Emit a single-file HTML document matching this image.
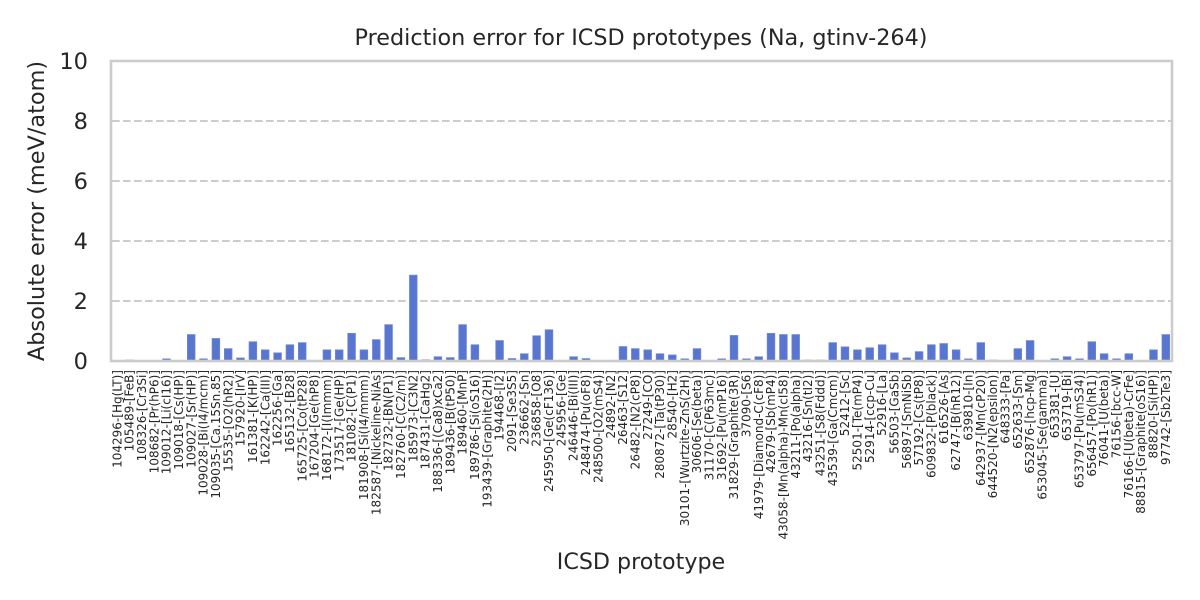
<!DOCTYPE html>
<html>
<head>
<meta charset="utf-8">
<style>
  html, body { margin: 0; padding: 0; background: #ffffff; }
  svg { display: block; }
  text { font-family: "DejaVu Sans", "Liberation Sans", sans-serif; fill: #262626; }
  .xt { font-size: 12px; }
</style>
</head>
<body>
<svg width="1200" height="600" viewBox="0 0 1200 600" xmlns="http://www.w3.org/2000/svg">
  <rect x="0" y="0" width="1200" height="600" fill="#ffffff"/>

  <!-- grid -->
  <g stroke="#cccccc" stroke-width="2" stroke-dasharray="7.7 3.3" fill="none">
    <line x1="112" y1="301" x2="1171" y2="301"/>
    <line x1="112" y1="241" x2="1171" y2="241"/>
    <line x1="112" y1="181" x2="1171" y2="181"/>
    <line x1="112" y1="121" x2="1171" y2="121"/>
  </g>

  <!-- bars -->
  <g fill="#5875d0" stroke="#6c86d6" stroke-width="0.8">
    <rect x="125.7" y="360.1" width="7.6" height="0.9"/>
    <rect x="162.7" y="358.9" width="7.6" height="2.1"/>
    <rect x="187.4" y="334.6" width="7.6" height="26.4"/>
    <rect x="199.7" y="358.9" width="7.6" height="2.1"/>
    <rect x="212.1" y="338.5" width="7.6" height="22.5"/>
    <rect x="224.4" y="348.7" width="7.6" height="12.3"/>
    <rect x="236.7" y="358" width="7.6" height="3"/>
    <rect x="249.1" y="341.8" width="7.6" height="19.2"/>
    <rect x="261.4" y="349.9" width="7.6" height="11.1"/>
    <rect x="273.8" y="352.9" width="7.6" height="8.1"/>
    <rect x="286.1" y="344.8" width="7.6" height="16.2"/>
    <rect x="298.4" y="342.7" width="7.6" height="18.3"/>
    <rect x="323.1" y="349.9" width="7.6" height="11.1"/>
    <rect x="335.4" y="349.9" width="7.6" height="11.1"/>
    <rect x="347.8" y="333.4" width="7.6" height="27.6"/>
    <rect x="360.1" y="349.9" width="7.6" height="11.1"/>
    <rect x="372.5" y="339.7" width="7.6" height="21.3"/>
    <rect x="384.8" y="324.7" width="7.6" height="36.3"/>
    <rect x="397.1" y="357.7" width="7.6" height="3.3"/>
    <rect x="409.5" y="275.2" width="7.6" height="85.8"/>
    <rect x="421.8" y="359.8" width="7.6" height="1.2"/>
    <rect x="434.1" y="356.8" width="7.6" height="4.2"/>
    <rect x="446.5" y="357.7" width="7.6" height="3.3"/>
    <rect x="458.8" y="324.7" width="7.6" height="36.3"/>
    <rect x="471.1" y="344.8" width="7.6" height="16.2"/>
    <rect x="495.8" y="340.6" width="7.6" height="20.4"/>
    <rect x="508.2" y="358.6" width="7.6" height="2.4"/>
    <rect x="520.5" y="353.8" width="7.6" height="7.2"/>
    <rect x="532.8" y="335.8" width="7.6" height="25.2"/>
    <rect x="545.2" y="329.8" width="7.6" height="31.2"/>
    <rect x="569.8" y="356.8" width="7.6" height="4.2"/>
    <rect x="582.2" y="358.6" width="7.6" height="2.4"/>
    <rect x="619.2" y="346.6" width="7.6" height="14.4"/>
    <rect x="631.5" y="348.7" width="7.6" height="12.3"/>
    <rect x="643.9" y="349.9" width="7.6" height="11.1"/>
    <rect x="656.2" y="353.8" width="7.6" height="7.2"/>
    <rect x="668.5" y="355" width="7.6" height="6"/>
    <rect x="680.9" y="358.9" width="7.6" height="2.1"/>
    <rect x="693.2" y="348.7" width="7.6" height="12.3"/>
    <rect x="717.9" y="358.9" width="7.6" height="2.1"/>
    <rect x="730.2" y="335.5" width="7.6" height="25.5"/>
    <rect x="742.6" y="358.9" width="7.6" height="2.1"/>
    <rect x="754.9" y="356.8" width="7.6" height="4.2"/>
    <rect x="767.2" y="333.4" width="7.6" height="27.6"/>
    <rect x="779.6" y="334.6" width="7.6" height="26.4"/>
    <rect x="791.9" y="334.6" width="7.6" height="26.4"/>
    <rect x="804.2" y="360.1" width="7.6" height="0.9"/>
    <rect x="816.6" y="360.1" width="7.6" height="0.9"/>
    <rect x="828.9" y="342.7" width="7.6" height="18.3"/>
    <rect x="841.2" y="346.9" width="7.6" height="14.1"/>
    <rect x="853.6" y="349.9" width="7.6" height="11.1"/>
    <rect x="865.9" y="347.8" width="7.6" height="13.2"/>
    <rect x="878.3" y="344.8" width="7.6" height="16.2"/>
    <rect x="890.6" y="352.9" width="7.6" height="8.1"/>
    <rect x="902.9" y="358" width="7.6" height="3"/>
    <rect x="915.3" y="351.7" width="7.6" height="9.3"/>
    <rect x="927.6" y="344.8" width="7.6" height="16.2"/>
    <rect x="939.9" y="343.6" width="7.6" height="17.4"/>
    <rect x="952.3" y="349.9" width="7.6" height="11.1"/>
    <rect x="964.6" y="358.9" width="7.6" height="2.1"/>
    <rect x="977" y="342.7" width="7.6" height="18.3"/>
    <rect x="989.3" y="360.1" width="7.6" height="0.9"/>
    <rect x="1014" y="348.7" width="7.6" height="12.3"/>
    <rect x="1026.3" y="340.6" width="7.6" height="20.4"/>
    <rect x="1051" y="358.9" width="7.6" height="2.1"/>
    <rect x="1063.3" y="356.8" width="7.6" height="4.2"/>
    <rect x="1075.7" y="358.9" width="7.6" height="2.1"/>
    <rect x="1088" y="341.8" width="7.6" height="19.2"/>
    <rect x="1100.3" y="353.8" width="7.6" height="7.2"/>
    <rect x="1112.7" y="358.9" width="7.6" height="2.1"/>
    <rect x="1125" y="353.8" width="7.6" height="7.2"/>
    <rect x="1149.7" y="349.9" width="7.6" height="11.1"/>
    <rect x="1162" y="334.6" width="7.6" height="26.4"/>
  </g>

  <!-- spines -->
  <rect x="111" y="61" width="1061" height="300" fill="none" stroke="#cccccc" stroke-width="2.6"/>

  <!-- y tick labels -->
  <g font-size="22.5" text-anchor="end">
    <text x="88" y="369">0</text>
    <text x="88" y="309">2</text>
    <text x="88" y="249">4</text>
    <text x="88" y="189">6</text>
    <text x="88" y="129">8</text>
    <text x="88" y="69">10</text>
  </g>

  <!-- title -->
  <text x="641" y="45" font-size="22.3" text-anchor="middle">Prediction error for ICSD prototypes (Na, gtinv-264)</text>

  <!-- axis labels -->
  <text x="641" y="569" font-size="22.2" text-anchor="middle">ICSD prototype</text>
  <text transform="translate(44,211) rotate(-90)" font-size="22.4" text-anchor="middle">Absolute error (meV/atom)</text>

  <!-- x tick labels -->
  <g class="xt" text-anchor="end">
    <text transform="translate(121.3,370) rotate(-90)">104296-[Hg(LT)]</text>
    <text transform="translate(133.6,370) rotate(-90)">105489-[FeB]</text>
    <text transform="translate(146.0,370) rotate(-90)">108326-[Cr3Si]</text>
    <text transform="translate(158.3,370) rotate(-90)">108682-[Pr(hP6)]</text>
    <text transform="translate(170.6,370) rotate(-90)">109012-[Li(cI16)]</text>
    <text transform="translate(183.0,370) rotate(-90)">109018-[Cs(HP)]</text>
    <text transform="translate(195.3,370) rotate(-90)">109027-[Sr(HP)]</text>
    <text transform="translate(207.6,370) rotate(-90)">109028-[Bi(I4/mcm)]</text>
    <text transform="translate(220.0,370) rotate(-90)">109035-[Ca.15Sn.85]</text>
    <text transform="translate(232.3,370) rotate(-90)">15535-[O2(hR2)]</text>
    <text transform="translate(244.6,370) rotate(-90)">157920-[IrV]</text>
    <text transform="translate(257.0,370) rotate(-90)">161381-[K(HP)]</text>
    <text transform="translate(269.3,370) rotate(-90)">162242-[Ca(III)]</text>
    <text transform="translate(281.7,370) rotate(-90)">162256-[Ga]</text>
    <text transform="translate(294.0,370) rotate(-90)">165132-[B28]</text>
    <text transform="translate(306.3,370) rotate(-90)">165725-[Co(tP28)]</text>
    <text transform="translate(318.7,370) rotate(-90)">167204-[Ge(hP8)]</text>
    <text transform="translate(331.0,370) rotate(-90)">168172-[I(Immm)]</text>
    <text transform="translate(343.3,370) rotate(-90)">173517-[Ge(HP)]</text>
    <text transform="translate(355.7,370) rotate(-90)">181082-[C(P1)]</text>
    <text transform="translate(368.0,370) rotate(-90)">181908-[Si(I4/mmm)]</text>
    <text transform="translate(380.3,370) rotate(-90)">182587-[Nickeline-NiAs]</text>
    <text transform="translate(392.7,370) rotate(-90)">182732-[BN(P1)]</text>
    <text transform="translate(405.0,370) rotate(-90)">182760-[C(C2/m)]</text>
    <text transform="translate(417.4,370) rotate(-90)">185973-[C3N2]</text>
    <text transform="translate(429.7,370) rotate(-90)">187431-[CaHg2]</text>
    <text transform="translate(442.0,370) rotate(-90)">188336-[(Ca8)xCa2]</text>
    <text transform="translate(454.4,370) rotate(-90)">189436-[B(tP50)]</text>
    <text transform="translate(466.7,370) rotate(-90)">189460-[MnP]</text>
    <text transform="translate(479.0,370) rotate(-90)">189786-[Si(oS16)]</text>
    <text transform="translate(491.4,370) rotate(-90)">193439-[Graphite(2H)]</text>
    <text transform="translate(503.7,370) rotate(-90)">194468-[I2]</text>
    <text transform="translate(516.1,370) rotate(-90)">2091-[Se3S5]</text>
    <text transform="translate(528.4,370) rotate(-90)">236662-[Sn]</text>
    <text transform="translate(540.7,370) rotate(-90)">236858-[O8]</text>
    <text transform="translate(553.1,370) rotate(-90)">245950-[Ge(cF136)]</text>
    <text transform="translate(565.4,370) rotate(-90)">245956-[Ge]</text>
    <text transform="translate(577.7,370) rotate(-90)">246446-[Bi(III)]</text>
    <text transform="translate(590.1,370) rotate(-90)">248474-[Pu(oF8)]</text>
    <text transform="translate(602.4,370) rotate(-90)">248500-[O2(mS4)]</text>
    <text transform="translate(614.8,370) rotate(-90)">24892-[N2]</text>
    <text transform="translate(627.1,370) rotate(-90)">26463-[S12]</text>
    <text transform="translate(639.4,370) rotate(-90)">26482-[N2(cP8)]</text>
    <text transform="translate(651.8,370) rotate(-90)">27249-[CO]</text>
    <text transform="translate(664.1,370) rotate(-90)">280872-[Ta(tP30)]</text>
    <text transform="translate(676.4,370) rotate(-90)">28540-[H2]</text>
    <text transform="translate(688.8,370) rotate(-90)">30101-[Wurtzite-ZnS(2H)]</text>
    <text transform="translate(701.1,370) rotate(-90)">30606-[Se(beta)]</text>
    <text transform="translate(713.4,370) rotate(-90)">31170-[C(P63mc)]</text>
    <text transform="translate(725.8,370) rotate(-90)">31692-[Pu(mP16)]</text>
    <text transform="translate(738.1,370) rotate(-90)">31829-[Graphite(3R)]</text>
    <text transform="translate(750.5,370) rotate(-90)">37090-[S6]</text>
    <text transform="translate(762.8,370) rotate(-90)">41979-[Diamond-C(cF8)]</text>
    <text transform="translate(775.1,370) rotate(-90)">42679-[Sb(mP4)]</text>
    <text transform="translate(787.5,370) rotate(-90)">43058-[Mn(alpha)-Mn(cI58)]</text>
    <text transform="translate(799.8,370) rotate(-90)">43211-[Po(alpha)]</text>
    <text transform="translate(812.1,370) rotate(-90)">43216-[Sn(tI2)]</text>
    <text transform="translate(824.5,370) rotate(-90)">43251-[S8(Fddd)]</text>
    <text transform="translate(836.8,370) rotate(-90)">43539-[Ga(Cmcm)]</text>
    <text transform="translate(849.2,370) rotate(-90)">52412-[Sc]</text>
    <text transform="translate(861.5,370) rotate(-90)">52501-[Te(mP4)]</text>
    <text transform="translate(873.8,370) rotate(-90)">52914-[ccp-Cu]</text>
    <text transform="translate(886.2,370) rotate(-90)">52916-[La]</text>
    <text transform="translate(898.5,370) rotate(-90)">56503-[GaSb]</text>
    <text transform="translate(910.8,370) rotate(-90)">56897-[SmNiSb]</text>
    <text transform="translate(923.2,370) rotate(-90)">57192-[Cs(tP8)]</text>
    <text transform="translate(935.5,370) rotate(-90)">609832-[P(black)]</text>
    <text transform="translate(947.8,370) rotate(-90)">616526-[As]</text>
    <text transform="translate(960.2,370) rotate(-90)">62747-[B(hR12)]</text>
    <text transform="translate(972.5,370) rotate(-90)">639810-[In]</text>
    <text transform="translate(984.9,370) rotate(-90)">642937-[Mn(cP20)]</text>
    <text transform="translate(997.2,370) rotate(-90)">644520-[N2(epsilon)]</text>
    <text transform="translate(1009.5,370) rotate(-90)">648333-[Pa]</text>
    <text transform="translate(1021.9,370) rotate(-90)">652633-[Sm]</text>
    <text transform="translate(1034.2,370) rotate(-90)">652876-[hcp-Mg]</text>
    <text transform="translate(1046.5,370) rotate(-90)">653045-[Se(gamma)]</text>
    <text transform="translate(1058.9,370) rotate(-90)">653381-[U]</text>
    <text transform="translate(1071.2,370) rotate(-90)">653719-[Bi]</text>
    <text transform="translate(1083.6,370) rotate(-90)">653797-[Pu(mS34)]</text>
    <text transform="translate(1095.9,370) rotate(-90)">656457-[Po(hR1)]</text>
    <text transform="translate(1108.2,370) rotate(-90)">76041-[U(beta)]</text>
    <text transform="translate(1120.6,370) rotate(-90)">76156-[bcc-W]</text>
    <text transform="translate(1132.9,370) rotate(-90)">76166-[U(beta)-CrFe]</text>
    <text transform="translate(1145.2,370) rotate(-90)">88815-[Graphite(oS16)]</text>
    <text transform="translate(1157.6,370) rotate(-90)">88820-[Si(HP)]</text>
    <text transform="translate(1169.9,370) rotate(-90)">97742-[Sb2Te3]</text>
  </g>
</svg>
</body>
</html>
